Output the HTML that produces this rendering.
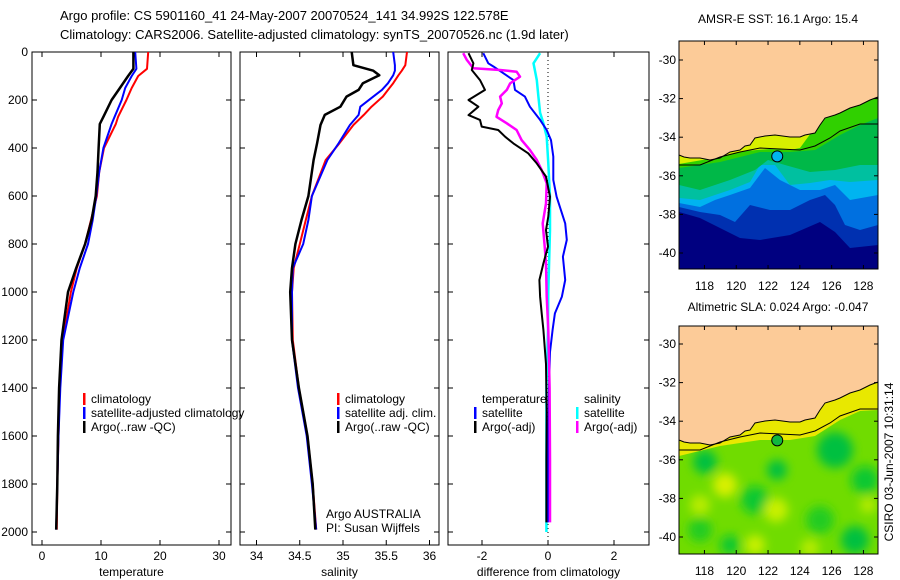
<!DOCTYPE html>
<html><head><meta charset="utf-8">
<style>
html,body{margin:0;padding:0;background:#fff;}
svg{display:block;font-family:"Liberation Sans",sans-serif;}
text{font-size:12px;fill:#000;}
</style></head>
<body>
<svg id="fig" width="900" height="580" viewBox="0 0 900 580" xmlns="http://www.w3.org/2000/svg">
<defs>
<clipPath id="c1"><rect x="32" y="52" width="199" height="493"/></clipPath>
<clipPath id="c2"><rect x="240" y="52" width="199" height="493"/></clipPath>
<clipPath id="c3"><rect x="448" y="52" width="201" height="493"/></clipPath>
<clipPath id="m1"><rect x="679" y="41" width="199" height="228"/></clipPath>
<clipPath id="m2"><rect x="679" y="326" width="199" height="228"/></clipPath>
<filter id="bl" x="-50%" y="-50%" width="200%" height="200%"><feGaussianBlur stdDeviation="5"/></filter>
</defs>
<text x="60" y="20" style="font-size:13px">Argo profile: CS 5901160_41 24-May-2007 20070524_141 34.992S 122.578E</text>
<text x="60" y="39" style="font-size:13px">Climatology: CARS2006. Satellite-adjusted climatology: synTS_20070526.nc (1.9d later)</text>
<g id="g1"></g>
<g id="g2"></g>
<g id="g3"></g>
<g id="map1"></g>
<g id="map2"></g>
<text transform="translate(893,462) rotate(-90)" text-anchor="middle">CSIRO 03-Jun-2007 10:31:14</text>
</svg>
<script>
// ---- data ----
const depthTicks = [0,200,400,600,800,1000,1200,1400,1600,1800,2000];
const tempTicks = [0,10,20,30];
const salTicks = [34,34.5,35,35.5,36];
const salTickLabels = ["34","34.5","35","35.5","36"];
const difTicks = [-2,0,2];

const tempDepth = [0,70,100,150,200,270,300,400,500,600,700,800,900,1000,1200,1400,1600,1800,1990];
const tempArgo  = [15.5,15.5,14.6,13.2,11.8,10.4,9.8,9.6,9.4,9.1,8.4,7.3,5.8,4.4,3.3,2.9,2.7,2.6,2.4];
const tempClim  = [18.0,17.8,16.3,15.2,14.3,12.9,12.5,10.5,9.7,9.3,8.3,7.3,5.9,4.9,3.5,3.0,2.8,2.6,2.5];
const tempSat   = [15.8,16.0,15.2,14.1,13.5,12.3,11.8,10.4,9.7,9.2,8.6,7.8,6.4,5.3,3.6,3.1,2.8,2.6,2.4];

const salDepth = [0,55,78,97,130,158,186,228,262,304,380,450,600,700,800,900,1000,1200,1400,1600,1800,1990];
const salArgo  = [35.10,35.12,35.35,35.42,35.23,35.18,35.04,34.97,34.79,34.74,34.70,34.66,34.60,34.52,34.45,34.41,34.39,34.41,34.49,34.59,34.65,34.68];
const salSat   = [35.58,35.60,35.60,35.58,35.52,35.45,35.35,35.20,35.18,35.08,34.95,34.82,34.64,34.60,34.54,34.42,34.41,34.41,34.48,34.58,34.64,34.69];
const salClim  = [35.74,35.72,35.68,35.64,35.58,35.52,35.46,35.33,35.24,35.12,34.96,34.80,34.64,34.57,34.50,34.43,34.41,34.42,34.49,34.59,34.65,34.69];

const dTempArgoDepth = [5,47,75,117,158,200,228,263,283,311,325,353,381,422,464,519,603,686,742,811,881,950,1019,1089,1158,1300,1500,1700,1960];
const dTempArgo = [-2.41,-2.26,-2.31,-2.06,-1.91,-2.41,-2.11,-2.41,-2.06,-2.01,-1.51,-1.30,-1.05,-0.60,-0.34,-0.06,0.06,0.01,-0.06,0.0,-0.14,-0.26,-0.24,-0.19,-0.14,-0.06,-0.04,-0.05,-0.05];
const dSalArgoDepth = [5,33,68,75,82,103,131,158,186,214,242,270,297,325,367,408,450,492,547,631,714,811,881,1019,1158,1400,1700,1960];
const dSalArgo = [-2.57,-2.46,-2.26,-1.45,-0.95,-0.85,-1.15,-1.25,-1.45,-1.40,-1.51,-1.56,-1.25,-0.95,-0.80,-0.55,-0.34,-0.19,-0.04,-0.06,-0.16,-0.10,-0.06,-0.04,0.01,0.05,0.06,0.06];
const dTempSatDepth = [5,47,61,117,158,186,228,283,325,367,436,533,603,714,783,853,950,1019,1089,1158,1250,1400,1700,1960];
const dTempSat = [-1.96,-1.81,-1.65,-1.05,-1.00,-0.70,-0.55,-0.24,-0.04,0.09,0.16,0.16,0.26,0.52,0.57,0.45,0.52,0.42,0.21,0.14,0.06,0.03,0.0,0.0];
const dSalSatDepth = [5,47,117,186,253,297,353,464,603,742,1000,1158,1400,1700,2000];
const dSalSat = [-0.24,-0.44,-0.34,-0.29,-0.24,-0.14,-0.04,0.01,0.06,0.06,0.01,0.0,-0.05,-0.05,-0.05];

const lonTicks = [118,120,122,124,126,128];
const latTicks = [-30,-32,-34,-36,-38,-40];
const argoLon = 122.578, argoLat = -34.992;

// ---- axes ----
const NS = "http://www.w3.org/2000/svg";
const depthY = d => 52 + d*0.24;
const tempX = t => 42 + 5.9*t;
const salX = s => 256.5 + 86.5*(s-34);
const difX = v => 548 + 33*v;
const lonX = lon => 679 + (lon-116.4)*15.9;
const latY1 = lat => 60 + (-30-lat)*19.3;
const latY2 = lat => 344 + (-30-lat)*19.3;

function mk(parent, tag, attrs, txt){
  const e = document.createElementNS(NS, tag);
  for (const k in attrs) e.setAttribute(k, attrs[k]);
  if (txt !== undefined) e.textContent = txt;
  parent.appendChild(e);
  return e;
}

function panel(g, x0, x1, xTicks, xLabels, xFn, xTitle, showDepthLabels){
  const box = mk(g,'rect',{x:x0,y:52,width:x1-x0,height:493,fill:'none',stroke:'#000','stroke-width':1});
  
  
  depthTicks.forEach(d=>{
    const y = depthY(d);
    mk(g,'line',{x1:x0,x2:x0+5,y1:y,y2:y,stroke:'#000'});
    mk(g,'line',{x1:x1-5,x2:x1,y1:y,y2:y,stroke:'#000'});
    if (showDepthLabels){
      const t = mk(g,'text',{x:28,y:y+4,'text-anchor':'end'}, String(d));
      
      
    }
  });
  xTicks.forEach((v,i)=>{
    const x = xFn(v);
    mk(g,'line',{x1:x,x2:x,y1:52,y2:57,stroke:'#000'});
    mk(g,'line',{x1:x,x2:x,y1:540,y2:545,stroke:'#000'});
    const t = mk(g,'text',{x:x,y:560,'text-anchor':'middle'}, xLabels[i]);
    
    
  });
  const tt = mk(g,'text',{x:(x0+x1)/2,y:576,'text-anchor':'middle'}, xTitle);
  
  
}

function line(g, depths, vals, xFn, color, w, clip, name){
  const pts = depths.map((d,i)=> xFn(vals[i]).toFixed(1)+','+depthY(d).toFixed(1)).join(' ');
  const p = mk(g,'polyline',{points:pts,fill:'none',stroke:color,'stroke-width':w,'clip-path':'url(#'+clip+')','stroke-linejoin':'round'});
  
  
}

function legendEntry(g, x, y, color, label){
  const r = mk(g,'rect',{x:x,y:y-10,width:2.5,height:12,fill:color});
  
  
  const t = mk(g,'text',{x:x+8,y:y}, label);
  
  
}

// Panel 1
const g1 = document.getElementById('g1');
panel(g1, 32, 231, tempTicks, tempTicks.map(String), tempX, 'temperature', true);
line(g1, tempDepth, tempClim, tempX, '#ff0000', 2, 'c1', 'temp-climatology-line');
line(g1, tempDepth, tempSat, tempX, '#0000ff', 2, 'c1', 'temp-satellite-line');
line(g1, tempDepth, tempArgo, tempX, '#000000', 2.5, 'c1', 'temp-argo-line');
legendEntry(g1, 83, 403, '#ff0000', 'climatology');
legendEntry(g1, 83, 417, '#0000ff', 'satellite-adjusted climatology');
legendEntry(g1, 83, 431, '#000000', 'Argo(..raw -QC)');

// Panel 2
const g2 = document.getElementById('g2');
panel(g2, 240, 439, salTicks, salTickLabels, salX, 'salinity', false);
line(g2, salDepth, salClim, salX, '#ff0000', 2, 'c2', 'sal-climatology-line');
line(g2, salDepth, salSat, salX, '#0000ff', 2, 'c2', 'sal-satellite-line');
line(g2, salDepth, salArgo, salX, '#000000', 2.5, 'c2', 'sal-argo-line');
legendEntry(g2, 337, 403, '#ff0000', 'climatology');
legendEntry(g2, 337, 417, '#0000ff', 'satellite adj. clim.');
legendEntry(g2, 337, 431, '#000000', 'Argo(..raw -QC)');
const a1 = mk(g2,'text',{x:326,y:518},'Argo AUSTRALIA');


const a2 = mk(g2,'text',{x:326,y:532},'PI: Susan Wijffels');



// Panel 3
const g3 = document.getElementById('g3');
panel(g3, 448, 649, difTicks, difTicks.map(String), difX, 'difference from climatology', false);
const zl = mk(g3,'line',{x1:difX(0),x2:difX(0),y1:52,y2:545,stroke:'#000','stroke-dasharray':'1,3'});


line(g3, dSalSatDepth, dSalSat, difX, '#00ffff', 2.5, 'c3', 'diff-sal-satellite-line');
line(g3, dTempSatDepth, dTempSat, difX, '#0000ff', 2, 'c3', 'diff-temp-satellite-line');
line(g3, dSalArgoDepth, dSalArgo, difX, '#ff00ff', 2.5, 'c3', 'diff-sal-argo-line');
line(g3, dTempArgoDepth, dTempArgo, difX, '#000000', 2, 'c3', 'diff-temp-argo-line');
const h1 = mk(g3,'text',{x:482,y:403},'temperature');


const h2 = mk(g3,'text',{x:584,y:403},'salinity');


legendEntry(g3, 474, 417, '#0000ff', 'satellite');
legendEntry(g3, 474, 431, '#000000', 'Argo(-adj)');
legendEntry(g3, 576, 417, '#00ffff', 'satellite');
legendEntry(g3, 576, 431, '#ff00ff', 'Argo(-adj)');

// ---- maps ----
const coast = [[679,155],[684,157],[690,158],[700,158],[710,160],[720,158],[730,152],[740,150],[745,146],[750,145],[755,138],[765,136],[775,135],[790,137],[800,137],[805,135],[815,133],[820,125],[825,118],[835,115],[840,113],[850,108],[860,105],[870,100],[878,97]];
const contour = [[679,165],[700,165],[720,157],[740,152],[760,148],[780,149],[800,150],[815,146],[830,138],[840,131],[860,124],[878,124]];
const ptsStr = (a,dy)=>a.map(p=>p[0]+','+(p[1]+dy)).join(' ');
function band(g, pts, color, dy, top){
  const all = [[679,top],...pts.map(p=>[p[0],p[1]]),[878,top]];
  mk(g,'polygon',{points:ptsStr(all,dy),fill:color});
}
function mapFrame(g, dy, latY, title){
  const tt = mk(g,'text',{x:778,y:dy?311:23,'text-anchor':'middle'}, title);
  
  
  const land = mk(g,'polygon',{points:'679,'+(41+dy)+' '+ptsStr(coast,dy)+' 878,'+(41+dy),fill:'#fccb98',stroke:'#000','stroke-width':1});
  
  
  const ct = mk(g,'polyline',{points:ptsStr(contour,dy),fill:'none',stroke:'#000','stroke-width':1});
  
  
  const fr = mk(g,'rect',{x:679,y:41+dy,width:199,height:228,fill:'none',stroke:'#000'});
  
  
  lonTicks.forEach(l=>{
    const x = lonX(l);
    mk(g,'line',{x1:x,x2:x,y1:41+dy,y2:45+dy,stroke:'#000'});
    mk(g,'line',{x1:x,x2:x,y1:265+dy,y2:269+dy,stroke:'#000'});
    const t = mk(g,'text',{x:x,y:290+dy,'text-anchor':'middle'}, String(l));
    
    
  });
  latTicks.forEach(l=>{
    const y = latY(l);
    mk(g,'line',{x1:679,x2:683,y1:y,y2:y,stroke:'#000'});
    mk(g,'line',{x1:874,x2:878,y1:y,y2:y,stroke:'#000'});
    const t = mk(g,'text',{x:676,y:y+4,'text-anchor':'end'}, String(l));
    
    
  });
}

// Map 1 SST
const m1 = document.getElementById('map1');
const f1 = mk(m1,'g',{'clip-path':'url(#m1)'});
mk(f1,'rect',{x:679,y:41,width:199,height:228,fill:'#000080'});
band(f1, [[679,212],[700,218],[720,228],[740,238],[760,240],[790,235],[820,222],[835,232],[850,248],[878,245]], '#0030b0', 0, 41);
band(f1, [[679,207],[700,212],[720,215],[735,222],[750,205],[770,210],[790,210],[810,200],[825,195],[835,205],[845,225],[860,230],[878,225]], '#0070e0', 0, 41);
band(f1, [[679,203],[700,207],[715,200],[730,195],[750,188],[765,168],[780,180],[800,190],[820,190],[835,185],[850,200],[878,195]], '#00b4f0', 0, 41);
band(f1, [[679,198],[700,200],[730,190],[750,182],[760,165],[775,165],[790,185],[810,183],[830,180],[850,182],[878,180]], '#00c0a0', 0, 41);
band(f1, [[679,185],[700,190],[730,180],[755,170],[768,160],[785,165],[810,172],[835,170],[860,165],[878,165]], '#00b848', 0, 41);
band(f1, [[679,168],[720,162],[760,152],[790,152],[815,150],[840,135],[860,125],[878,118]], '#30d000', 0, 41);
band(f1, [[679,164],[720,157],[745,151],[770,149],[790,150],[800,148]], '#d8f000', 0, 41);
mapFrame(m1, 0, latY1, 'AMSR-E SST: 16.1 Argo: 15.4');
const mk1 = mk(m1,'circle',{cx:lonX(argoLon),cy:latY1(argoLat),r:5.5,fill:'#00b4f0',stroke:'#000'});



// Map 2 SLA
const m2 = document.getElementById('map2');
const f2 = mk(m2,'g',{'clip-path':'url(#m2)'});
mk(f2,'rect',{x:679,y:326,width:199,height:228,fill:'#70dc00'});
const blobs = mk(f2,'g',{filter:'url(#bl)'});
[[705,462,12,'#00c040'],[755,500,14,'#10c830'],[777,470,10,'#00c040'],[835,450,18,'#00c040'],[820,520,14,'#20cc20'],[855,540,14,'#00c040'],[865,480,14,'#10c830'],[700,530,12,'#20cc20'],[730,545,10,'#10c830']].forEach(b=>mk(blobs,'circle',{cx:b[0],cy:b[1],r:b[2],fill:b[3]}));
[[725,485,12,'#d8f000'],[776,510,12,'#c8f000'],[700,505,10,'#b8ec00'],[755,545,10,'#c8f000'],[810,548,9,'#b8ec00'],[868,505,8,'#b8ec00']].forEach(b=>mk(blobs,'circle',{cx:b[0],cy:b[1],r:b[2],fill:b[3]}));
band(f2, [[679,456],[720,446],[760,440],[790,440],[815,436],[840,420],[860,411],[878,410]], '#e8e800', 0, 326);
mapFrame(m2, 285, latY2, 'Altimetric SLA: 0.024 Argo: -0.047');
const mk2 = mk(m2,'circle',{cx:lonX(argoLon),cy:latY2(argoLat),r:5.5,fill:'#10b840',stroke:'#000'});


</script>
</body></html>
